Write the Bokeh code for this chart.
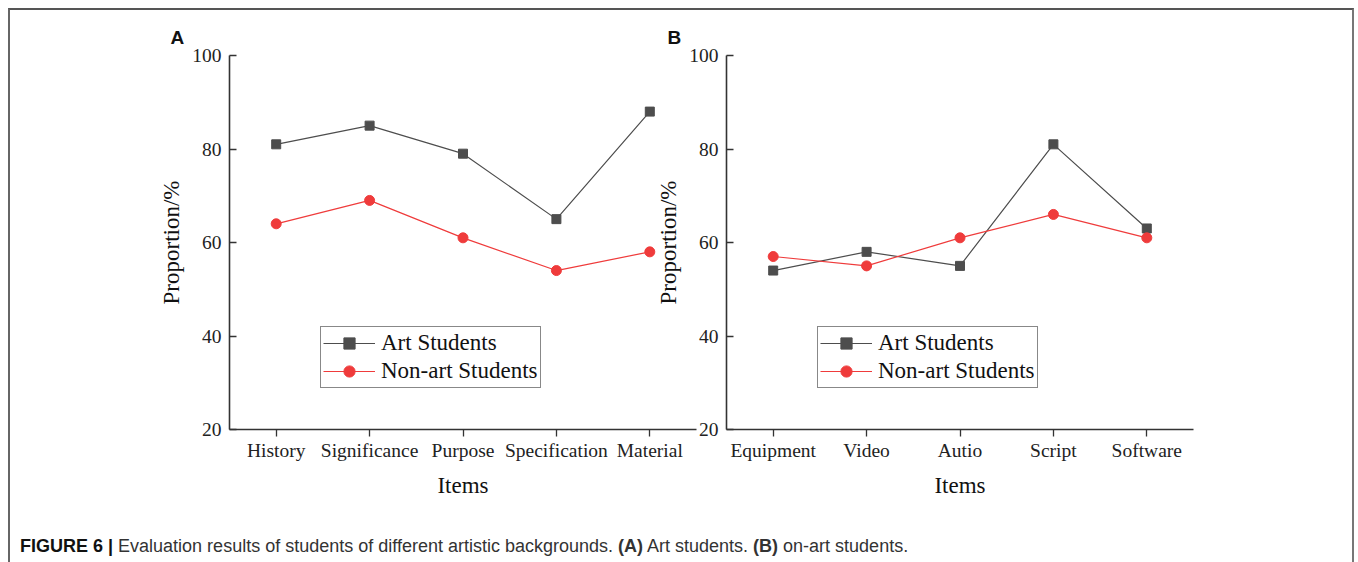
from bokeh.plotting import figure
from bokeh.models import FactorRange, Range1d, FixedTicker, Div, Title, Legend
from bokeh.layouts import row, column
from bokeh.embed import file_html
from bokeh.resources import INLINE

# ---- data ----
items_a = ["History", "Significance", "Purpose", "Specification", "Material"]
art_a = [81, 85, 79, 65, 88]
nonart_a = [64, 69, 61, 54, 58]

items_b = ["Equipment", "Video", "Autio", "Script", "Software"]
art_b = [54, 58, 55, 81, 63]
nonart_b = [57, 55, 61, 66, 61]

y_ticks = [20, 40, 60, 80, 100]
series_names = ["Art Students", "Non-art Students"]
panel_labels = ["A", "B"]

SERIF = "Liberation Serif"
ART_COL = "#4d4d4d"
NON_COL = "#ef3b3b"


def make_panel(items, art, nonart, label, min_left, min_right):
    p = figure(x_range=FactorRange(factors=items), y_range=Range1d(20, 100),
               frame_width=467, frame_height=374,
               min_border_left=min_left, min_border_right=min_right,
               min_border_top=45, min_border_bottom=70,
               output_backend="svg", toolbar_location=None,
               background_fill_color=None, border_fill_color=None)
    p.outline_line_color = None
    p.grid.grid_line_color = None

    t = Title(text=label, align="left", offset=-59,
              text_font="Liberation Sans", text_font_style="bold",
              text_font_size="19px", text_color="#111111", standoff=15)
    p.add_layout(t, "above")

    r1 = p.line(items, art, line_color=ART_COL, line_width=1.2)
    r2 = p.scatter(items, art, marker="square", size=9,
                   fill_color=ART_COL, line_color=ART_COL)
    r3 = p.line(items, nonart, line_color=NON_COL, line_width=1.2)
    r4 = p.scatter(items, nonart, marker="circle", size=10,
                   fill_color=NON_COL, line_color=NON_COL)

    legend = Legend(items=[(series_names[0], [r1, r2]), (series_names[1], [r3, r4])],
                    location=(91, 41))
    legend.label_text_font = SERIF
    legend.label_text_font_size = "23px"
    legend.label_text_color = "#111111"
    legend.glyph_width = 52
    legend.glyph_height = 28
    legend.label_height = 28
    legend.label_standoff = 6
    legend.spacing = 0
    legend.padding = 2
    legend.margin = 0
    legend.border_line_color = "#111111"
    legend.border_line_width = 1
    legend.background_fill_color = "white"
    legend.background_fill_alpha = 1
    p.add_layout(legend, "center")

    for ax in (p.xaxis[0], p.yaxis[0]):
        ax.axis_line_color = "#333333"
        ax.axis_line_width = 1.6
        ax.major_tick_line_color = "#333333"
        ax.major_tick_line_width = 1.3
        ax.minor_tick_line_color = None
        ax.major_label_text_font = SERIF
        ax.major_label_text_font_size = "19.5px"
        ax.major_label_text_color = "#222222"
        ax.axis_label_text_font = SERIF
        ax.axis_label_text_font_size = "23px"
        ax.axis_label_text_font_style = "normal"
        ax.axis_label_text_color = "#111111"

    p.xaxis.axis_label = "Items"
    p.xaxis.major_tick_in = 0
    p.xaxis.major_tick_out = 7
    p.xaxis.major_label_standoff = 3
    p.xaxis.axis_label_standoff = 9

    p.yaxis.axis_label = "Proportion/%"
    p.yaxis.ticker = FixedTicker(ticks=y_ticks)
    p.yaxis.major_tick_in = 7
    p.yaxis.major_tick_out = 0
    p.yaxis.major_label_standoff = 8
    p.yaxis.axis_label_standoff = 5
    return p


pA = make_panel(items_a, art_a, nonart_a, panel_labels[0], 219, 5)
pB = make_panel(items_b, art_b, nonart_b, panel_labels[1], 70, 159)
pB.margin = (0, 0, 0, -48)

caption_html = ('<span style="font-weight:bold;color:#111">FIGURE 6 |</span> '
                'Evaluation results of students of different artistic backgrounds. '
                '<b>(A)</b> Art students. <b>(B)</b> on-art students.')
cap = Div(text=caption_html, width=1300, height=40, margin=(34, 0, 0, 10),
          styles={"font-family": "'Liberation Sans Narrow', 'Liberation Sans', sans-serif",
                  "font-size": "18px", "color": "#333333", "white-space": "nowrap"})

layout = column(row(pA, pB), cap, margin=(8, 0, 0, 8),
                styles={"border-top": "2px solid #555555",
                        "border-left": "2px solid #666666",
                        "border-right": "2px solid #777777"})

open("out.html", "w").write(file_html(layout, INLINE))
